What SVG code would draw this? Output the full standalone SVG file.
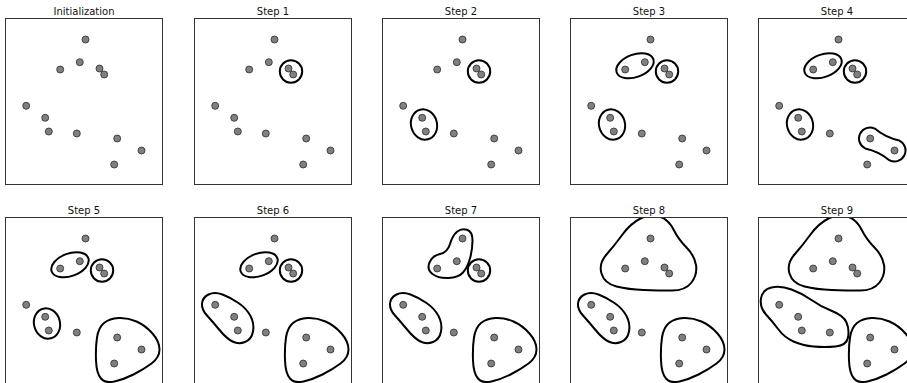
<svg xmlns="http://www.w3.org/2000/svg" xmlns:xlink="http://www.w3.org/1999/xlink" width="907" height="383" viewBox="0 0 907 383">
<style>
.box{fill:none;stroke:#333;stroke-width:1}
.title{font-family:"DejaVu Sans",sans-serif;font-size:10px;fill:#111;text-anchor:middle}
.dot{fill:#808080;stroke:#2a2a2a;stroke-width:0.8}
.clu{fill:none;stroke:#000;stroke-width:2}
</style>
<defs>
<clipPath id="clip" clipPathUnits="userSpaceOnUse"><rect x="0" y="0" width="157" height="166"/></clipPath>
<g id="dots">
<circle class="dot" cx="80" cy="21" r="3.5"/>
<circle class="dot" cx="74.3" cy="43.7" r="3.5"/>
<circle class="dot" cx="54.7" cy="51" r="3.5"/>
<circle class="dot" cx="94" cy="50" r="3.5"/>
<circle class="dot" cx="98.7" cy="56" r="3.5"/>
<circle class="dot" cx="20.7" cy="87.3" r="3.5"/>
<circle class="dot" cx="39.7" cy="99.3" r="3.5"/>
<circle class="dot" cx="43.3" cy="113" r="3.5"/>
<circle class="dot" cx="71.3" cy="115" r="3.5"/>
<circle class="dot" cx="111.7" cy="120" r="3.5"/>
<circle class="dot" cx="136" cy="132" r="3.5"/>
<circle class="dot" cx="108.7" cy="146" r="3.5"/>
</g>
<circle id="A" class="clu" cx="96.5" cy="53" r="11.2"/>
<ellipse id="B" class="clu" cx="41.5" cy="106" rx="13" ry="15.3" transform="rotate(-15 41.5 106)"/>
<ellipse id="C" class="clu" cx="64.5" cy="47.3" rx="19.5" ry="11.3" transform="rotate(-20 64.5 47.3)"/>
<path id="D" class="clu" d="M 116.3 110.1 C 122.6 115.4 132.74 120.37 140.8 122.1 A 11 11 0 0 1 131.2 141.9 C 124.9 136.59 114.76 131.63 106.7 129.9 A 11 11 0 0 1 116.3 110.1 Z"/>
<path id="E" class="clu" d="M 91.5 120 Q 93 110 98.5 105.5 Q 104 101 113 100.5 Q 122 100 131 104 Q 140 108 147 116 Q 154 124 154 132 Q 154 140 146 146 Q 138 152 128 157 Q 118 162 109 164 Q 100 166 95.5 161 Q 91 156 90.5 143 Q 90 130 91.5 120 Z"/>
<path id="F" class="clu" d="M 7.5 86 Q 8 80 14 77 Q 20 74 28 77 Q 36 80 44 85.5 Q 52 91 56 98.5 Q 60 106 58.5 114 Q 57 122 50.5 124.5 Q 44 127 38 124 Q 32 121 25 112.5 Q 18 104 12.5 98 Q 7 92 7.5 86 Z"/>
<path id="G" class="clu" d="M 74.5 14.25 Q 79 10.5 84.5 12.25 Q 90 14 90 23 Q 90 32 87.5 41 Q 85 50 80.5 55 Q 76 60 66 60.5 Q 56 61 50 56.5 Q 44 52 47 45 Q 50 38 57.5 36.5 Q 65 35 67.5 26.5 Q 70 18 74.5 14.25 Z"/>
<path id="H" class="clu" d="M 70 1 Q 80 -4 89 -1 Q 98 2 103 12 Q 108 22 116 30 Q 124 38 125.5 47.5 Q 127 57 121 65 Q 115 73 101.5 73 Q 88 73 73 72.5 Q 58 72 46 69 Q 34 66 31 56 Q 28 46 36 37 Q 44 28 52 17 Q 60 6 70 1 Z"/>
<path id="I" class="clu" d="M 2.5 81 Q 4 72 13 70 Q 22 68 33 72 Q 44 76 53 82.5 Q 62 89 73.5 93.5 Q 85 98 88 105 Q 91 112 89.5 120 Q 88 128 77 129 Q 66 130 55 129 Q 44 128 35 124 Q 26 120 20 112 Q 14 104 7.5 97 Q 1 90 2.5 81 Z"/>
</defs>
<rect width="907" height="383" fill="#fff"/>

<g id="panel-init" transform="translate(5.5,18.5)">
<text class="title" x="78.5" y="-3.5">Initialization</text>
<g clip-path="url(#clip)"><use xlink:href="#dots"/></g>
<rect class="box" width="157" height="166"/>
</g>

<g id="panel-step1" transform="translate(194.5,18.5)">
<text class="title" x="78.5" y="-3.5">Step 1</text>
<g clip-path="url(#clip)"><use xlink:href="#dots"/><use xlink:href="#A"/></g>
<rect class="box" width="157" height="166"/>
</g>

<g id="panel-step2" transform="translate(382.5,18.5)">
<text class="title" x="78.5" y="-3.5">Step 2</text>
<g clip-path="url(#clip)"><use xlink:href="#dots"/><use xlink:href="#A"/><use xlink:href="#B"/></g>
<rect class="box" width="157" height="166"/>
</g>

<g id="panel-step3" transform="translate(570.5,18.5)">
<text class="title" x="78.5" y="-3.5">Step 3</text>
<g clip-path="url(#clip)"><use xlink:href="#dots"/><use xlink:href="#A"/><use xlink:href="#B"/><use xlink:href="#C"/></g>
<rect class="box" width="157" height="166"/>
</g>

<g id="panel-step4" transform="translate(758.5,18.5)">
<text class="title" x="78.5" y="-3.5">Step 4</text>
<g clip-path="url(#clip)"><use xlink:href="#dots"/><use xlink:href="#A"/><use xlink:href="#B"/><use xlink:href="#C"/><use xlink:href="#D"/></g>
<rect class="box" width="157" height="166"/>
</g>

<g id="panel-step5" transform="translate(5.5,217.5)">
<text class="title" x="78.5" y="-3.5">Step 5</text>
<g clip-path="url(#clip)"><use xlink:href="#dots"/><use xlink:href="#A"/><use xlink:href="#B"/><use xlink:href="#C"/><use xlink:href="#E"/></g>
<rect class="box" width="157" height="166"/>
</g>

<g id="panel-step6" transform="translate(194.5,217.5)">
<text class="title" x="78.5" y="-3.5">Step 6</text>
<g clip-path="url(#clip)"><use xlink:href="#dots"/><use xlink:href="#A"/><use xlink:href="#C"/><use xlink:href="#E"/><use xlink:href="#F"/></g>
<rect class="box" width="157" height="166"/>
</g>

<g id="panel-step7" transform="translate(382.5,217.5)">
<text class="title" x="78.5" y="-3.5">Step 7</text>
<g clip-path="url(#clip)"><use xlink:href="#dots"/><use xlink:href="#A"/><use xlink:href="#E"/><use xlink:href="#F"/><use xlink:href="#G"/></g>
<rect class="box" width="157" height="166"/>
</g>

<g id="panel-step8" transform="translate(570.5,217.5)">
<text class="title" x="78.5" y="-3.5">Step 8</text>
<g clip-path="url(#clip)"><use xlink:href="#dots"/><use xlink:href="#E"/><use xlink:href="#F"/><use xlink:href="#H"/></g>
<rect class="box" width="157" height="166"/>
</g>

<g id="panel-step9" transform="translate(758.5,217.5)">
<text class="title" x="78.5" y="-3.5">Step 9</text>
<g clip-path="url(#clip)"><use xlink:href="#dots"/><use xlink:href="#E"/><use xlink:href="#H"/><use xlink:href="#I"/></g>
<rect class="box" width="157" height="166"/>
</g>
</svg>
